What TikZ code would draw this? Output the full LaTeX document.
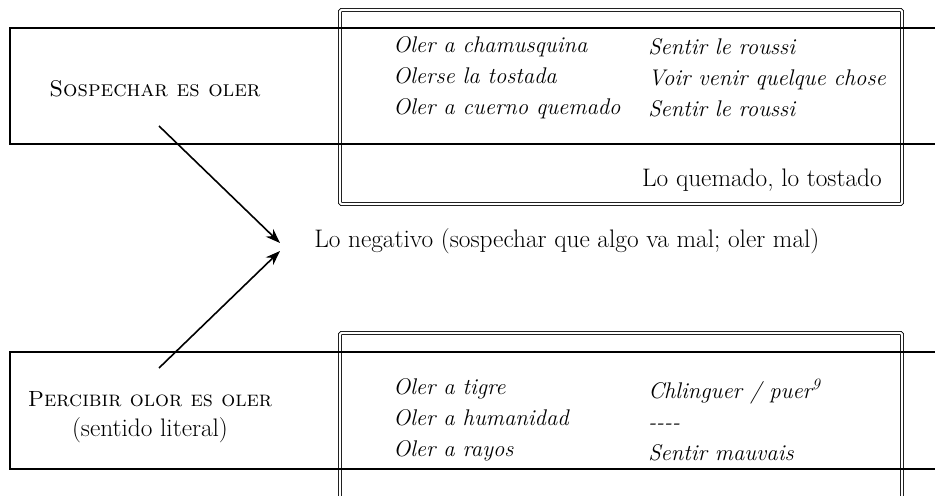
\documentclass[tikz,border=0pt]{standalone}
\usepackage{tikz}
\usetikzlibrary{arrows.meta}

\begin{document}
\begin{tikzpicture}[x=0.75pt,y=-0.75pt,
    caja/.style={line width=1.4pt},
    marco/.style={double,double distance=1.6pt,line width=0.6pt,rounded corners=1pt},
    ej/.style={align=left,font=\itshape\fontsize{17}{23.25}\selectfont,inner sep=0pt},
    txt/.style={align=center,font=\fontsize{19}{20}\selectfont,inner sep=0pt},
    flecha/.style={-{Stealth[length=11pt,width=8pt]},line width=1.2pt}]
\useasboundingbox (0,0) rectangle (935,496);
% marcos dobles
\draw[marco] (340,10) rectangle (902,204);
\draw[marco] (340,520) -- (340,333) -- (902,333) -- (902,520);
% cajas simples
\draw[caja] (935,28) -- (10,28) -- (10,144) -- (935,144);
\draw[caja] (935,352) -- (10,352) -- (10,469) -- (935,469);

% arriba
\node[txt] (sospechar) at (155,89) {\fontsize{17}{20}\selectfont\textsc{Sospechar es oler}};
\node[ej,anchor=west] (esp1) at (393,78) {Oler a chamusquina\\Olerse la tostada\\Oler a cuerno quemado};
\node[ej,anchor=west] (fr1) at (648,78) {Sentir le roussi\\Voir venir quelque chose\\Sentir le roussi};
\node[txt,anchor=east] (quemado) at (882,180) {Lo quemado, lo tostado};

% centro
\node[txt,anchor=west] (negativo) at (314,241) {Lo negativo (sospechar que algo va mal; oler mal)};

% abajo
\node[txt] (percibir) at (150,417) {{\fontsize{16.5}{20}\selectfont\textsc{Percibir olor es oler}}\\[2.3pt](sentido literal)};
\node[ej,anchor=west] (esp2) at (393,420) {Oler a tigre\\Oler a humanidad\\Oler a rayos};
\node[ej,anchor=west] (fr2) at (648,420) {Chlinguer / puer\textsuperscript{9}\\{-}{-}{-}{-}\\Sentir mauvais};

% flechas
\coordinate (colaA) at (159,126);
\coordinate (colaB) at (159,368);
\coordinate (puntaA) at (280,243);
\coordinate (puntaB) at (280,251);
\draw[flecha] (colaA) -- (puntaA);
\draw[flecha] (colaB) -- (puntaB);
\end{tikzpicture}
\end{document}
